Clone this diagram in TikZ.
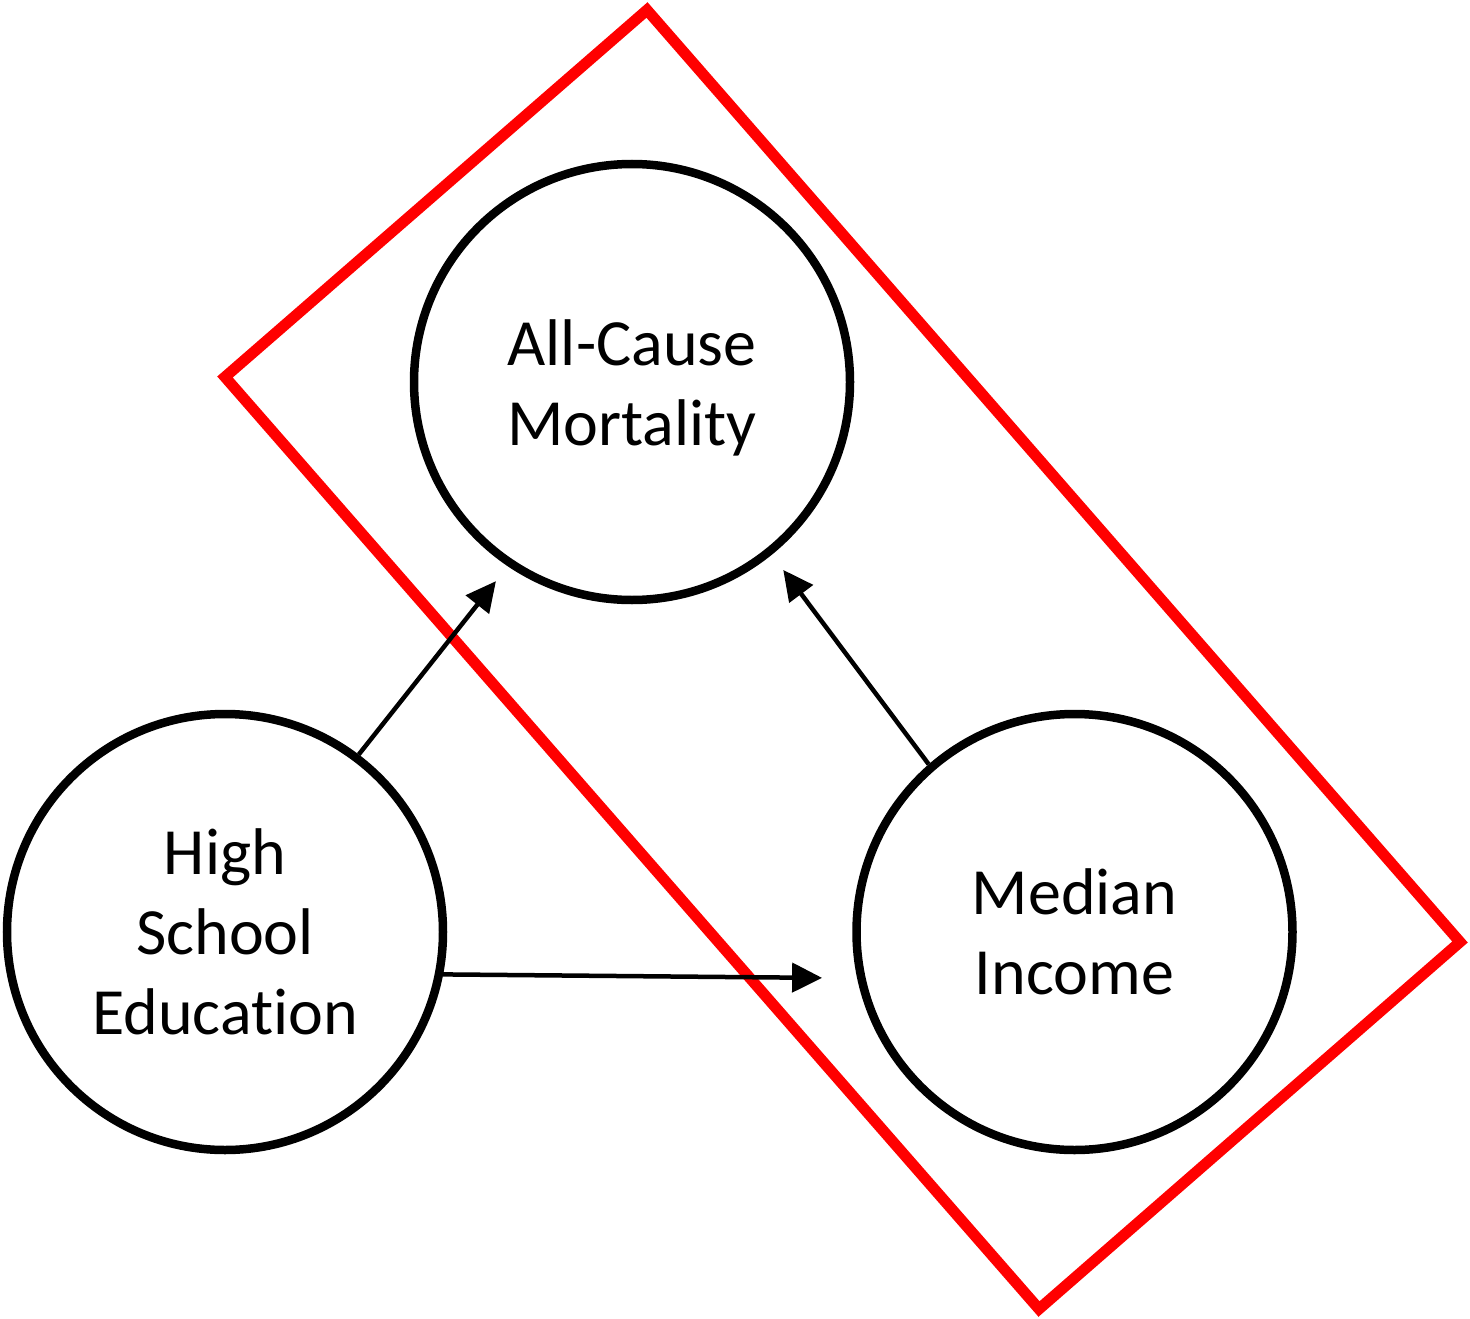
\documentclass[tikz,border=0pt]{standalone}
\usepackage{fontspec}
\setmainfont{Carlito}[Ligatures=NoCommon]
\usetikzlibrary{positioning, arrows.meta}
\definecolor{boxRed}{HTML}{FF0000}

\begin{document}
\begin{tikzpicture}[
    x=1pt, y=-1pt,
    factor/.style={circle, draw=black, line width=8.5pt, minimum size=436pt, inner sep=0pt,
        align=center, font=\fontsize{66}{80}\selectfont},
    link/.style={draw=black, line width=4.5pt, -{Triangle[length=30pt, width=29pt]}}
]
    \useasboundingbox (0,0) rectangle (1470,1319);

    \node[factor] (AC) at (632,382) {\rule{0pt}{58pt}All-Cause\\Mortality};
    \node[factor] (HS) at (225,932) {High\\School\\Education};
    \node[factor, right=405pt of HS] (MI) {Median\\Income};

    \draw[boxRed, line width=11pt, line join=miter]
        (647,10) -- (1460,942) -- (1039,1309) -- (225,377) -- cycle;

    \draw[link, shorten >=19pt] (HS.53) -- (AC.236);
    \draw[link, shorten >=35pt] (HS.-11) -- (MI.192);
    \draw[link, shorten >=19pt] (MI.131) -- (AC.-51);
\end{tikzpicture}
\end{document}
